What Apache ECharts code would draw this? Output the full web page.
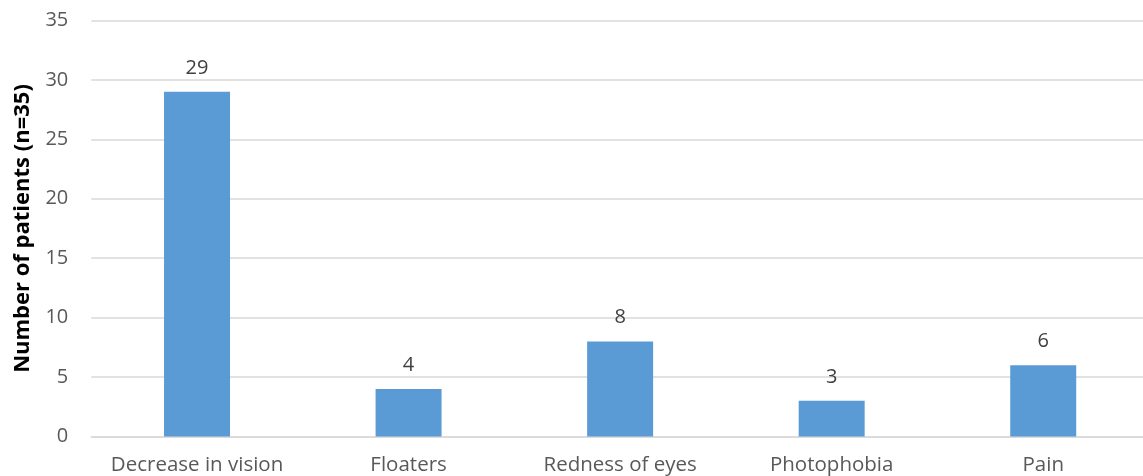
<!DOCTYPE html>
<html>
<head>
<meta charset="utf-8">
<script src="https://cdn.jsdelivr.net/npm/echarts@6/dist/echarts.min.js"></script>
<style>
  html, body { margin: 0; padding: 0; background: #ffffff; overflow: hidden; }
  /* plot runs slightly past the right edge of the page */
  #chart { width: 1149px; height: 476px; }
</style>
</head>
<body>
<div id="chart"></div>
<script>
// Presenting symptoms
const categories = ['Decrease in vision', 'Floaters', 'Redness of eyes', 'Photophobia', 'Pain'];
const patients = [29, 4, 8, 3, 6];
const yTicks = { min: 0, max: 35, interval: 5 };

const font = '"Open Sans", "Liberation Sans", sans-serif';
const chart = echarts.init(document.getElementById('chart'));

chart.setOption({
  animation: false,
  grid: { left: 91.25, right: 0, top: 20.5, bottom: 39.5, containLabel: false },
  xAxis: {
    type: 'category',
    data: categories,
    axisLine: { show: true, lineStyle: { color: '#d9d9d9', width: 1.5 } },
    axisTick: { show: false },
    axisLabel: { color: '#595959', fontFamily: font, fontSize: 20.5, margin: 18, interval: 0 }
  },
  yAxis: {
    type: 'value',
    min: yTicks.min,
    max: yTicks.max,
    interval: yTicks.interval,
    name: 'Number of patients (n=35)',
    nameLocation: 'middle',
    nameGap: 58,
    nameTextStyle: { color: '#000000', fontFamily: font, fontSize: 22, fontWeight: 'bold' },
    axisLine: { show: false },
    axisTick: { show: false },
    axisLabel: { color: '#595959', fontFamily: font, fontSize: 20, margin: 23 },
    splitLine: { lineStyle: { color: '#d9d9d9', width: 1.5 } }
  },
  series: [{
    type: 'bar',
    data: patients,
    barWidth: 66,
    itemStyle: { color: '#5b9bd5' },
    label: {
      show: true,
      position: 'top',
      distance: 14,
      color: '#404040',
      fontFamily: font,
      fontSize: 20
    }
  }]
});
</script>
</body>
</html>
